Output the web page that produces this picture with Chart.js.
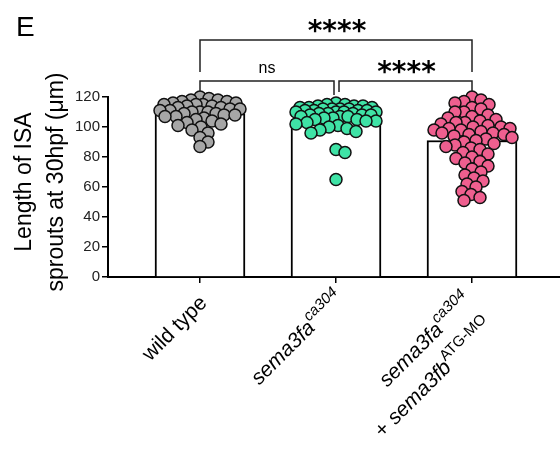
<!DOCTYPE html>
<html><head><meta charset="utf-8">
<script src="https://cdn.jsdelivr.net/npm/chart.js@4"></script>
<style>html,body{margin:0;padding:0;background:#fff;overflow:hidden}</style>
</head><body>
<canvas id="c" width="575" height="455" style="display:block;width:575px;height:455px"></canvas>
<script>
// ---- data ----
const categories = ['wild type', 'sema3fa ca304', 'sema3fa ca304 + sema3fb ATG-MO'];
const barMeans = [109, 105, 91];
const wildType = [120,119,118,118,117,117,116,116,115,115,115,114,114,113,113,112,112,111,111,110,
                  110,110,109,109,108,108,107,107,106,105,104,103,102,101,100,98,96,93,90,87];
const sema3fa = [116,115,115,114,114,114,113,113,113,112,112,112,112,111,111,111,111,110,110,110,
                 110,109,109,109,108,108,108,107,107,107,106,106,105,105,104,104,103,102,101,100,
                 99,98,97,96,85,83,65];
const sema3faMO = [120,118,117,116,115,113,112,110,110,108,107,106,105,104,103,103,102,101,100,100,
                   99,99,98,98,97,96,96,95,95,94,93,92,91,90,89,88,87,86,85,83,
                   82,80,79,77,76,74,72,70,68,66,64,62,60,57,55,53,51];
const yTicks = [0, 20, 40, 60, 80, 100, 120];
const comparisons = [
  {a: 0, b: 2, label: '****', level: 2},
  {a: 0, b: 1, label: 'ns', level: 1},
  {a: 1, b: 2, label: '****', level: 1}
];
const groupColors = ['#a6a6a6', '#3fe3a6', '#ef5f8f'];

// ---- deterministic beeswarm layout (pixel spacing) ----
const PX_PER_X = 136, PX_PER_Y = 1.5, LEFT_GAP = 92;
function swarm(values, gi, D, maxOff) {
  const idx = values.map((v, i) => i).sort((i, j) => values[j] - values[i]);
  const placed = [];
  const out = new Array(values.length);
  for (const i of idx) {
    const py = values[i] * PX_PER_Y;
    let best = 0, bestD = -1;
    for (let k = 0; k <= 2 * maxOff; k++) {
      const off = (k % 2 ? 1 : -1) * Math.ceil(k / 2);
      let md = Infinity;
      for (const p of placed) { const d = Math.hypot(p[0] - off, p[1] - py); if (d < md) md = d; }
      if (md >= D) { best = off; bestD = md; break; }
      if (md > bestD) { bestD = md; best = off; }
    }
    placed.push([best, py]);
    out[i] = {x: gi + best / PX_PER_X, y: values[i]};
  }
  return out;
}
const groups = [wildType, sema3fa, sema3faMO];

const FONT = '"Liberation Sans", Arial, sans-serif';

function drawRich(ctx, parts, ax, ay) {
  const fontOf = p => (p.italic ? 'italic ' : '') + (p.sup ? '15px ' : '21px ') + FONT;
  let total = 0;
  for (const p of parts) { ctx.font = fontOf(p); p.w = ctx.measureText(p.t).width; total += p.w; }
  ctx.save();
  ctx.translate(ax, ay);
  ctx.rotate(-Math.PI / 4);
  ctx.textAlign = 'left';
  ctx.textBaseline = 'alphabetic';
  let x = -total;
  for (const p of parts) {
    ctx.font = fontOf(p);
    ctx.fillText(p.t, x, p.sup ? -10 : 0);
    x += p.w;
  }
  ctx.restore();
}

const overlay = {
  id: 'overlay',
  afterDraw(chart) {
    const ctx = chart.ctx;
    const xs = chart.scales.x;
    const axisY = chart.chartArea.bottom;
    ctx.save();
    ctx.fillStyle = '#000';
    ctx.font = '28px ' + FONT;
    ctx.textAlign = 'left'; ctx.textBaseline = 'alphabetic';
    ctx.fillText('E', 16, 36);

    ctx.save();
    ctx.translate(0, 182);
    ctx.rotate(-Math.PI / 2);
    ctx.font = '23px ' + FONT;
    ctx.textAlign = 'center';
    ctx.fillText('Length of ISA', 0, 31);
    ctx.fillText('sprouts at 30hpf (\u03bcm)', 0, 63);
    ctx.restore();

    ctx.strokeStyle = '#222';
    ctx.lineWidth = 1.5;
    for (const c of comparisons) {
      let x1 = xs.getPixelForValue(c.a), x2 = xs.getPixelForValue(c.b);
      let top, dropL, dropR;
      if (c.level === 2) { top = 40; dropL = 72; dropR = 72; }
      else {
        top = 81; dropL = 92; dropR = 92;
        if (c.b === 1) { x2 -= 2; dropR = 95; }
        if (c.a === 1) { x1 += 3; }
      }
      ctx.beginPath();
      ctx.moveTo(x1, dropL); ctx.lineTo(x1, top); ctx.lineTo(x2, top); ctx.lineTo(x2, dropR);
      ctx.stroke();
      const cx = (x1 + x2) / 2;
      ctx.textAlign = 'center';
      if (c.label === 'ns') {
        ctx.font = '16px ' + FONT;
        ctx.fillText(c.label, cx, top - 8);
      } else {
        ctx.font = 'bold 28px "DejaVu Sans", sans-serif';
        ctx.fillText(c.label, cx + 1, top);
      }
    }

    const t0 = xs.getPixelForValue(0), t1 = xs.getPixelForValue(1), t2 = xs.getPixelForValue(2);
    drawRich(ctx, [{t: 'wild type'}], t0 + 8, axisY + 27);
    drawRich(ctx, [{t: 'sema3fa', italic: true}, {t: 'ca304', sup: true, italic: true}], t1 + 9, axisY + 23);
    drawRich(ctx, [{t: 'sema3fa', italic: true}, {t: 'ca304', sup: true, italic: true}], t2 + 1, axisY + 25);
    drawRich(ctx, [{t: '+ '}, {t: 'sema3fb', italic: true}, {t: 'ATG-MO', sup: true}], t2 + 22, axisY + 50);
    ctx.restore();
  }
};

new Chart(document.getElementById('c'), {
  type: 'bar',
  data: {
    datasets: [
      {
        type: 'bar',
        data: barMeans.map((v, i) => ({x: i, y: v})),
        backgroundColor: '#ffffff',
        borderColor: '#000',
        borderWidth: 2,
        barThickness: 90,
        order: 3
      },
      ...groups.map((g, gi) => ({
        type: 'scatter',
        data: swarm(g, gi, 9, 40),
        backgroundColor: groupColors[gi],
        borderColor: '#111',
        borderWidth: 1.5,
        pointRadius: 6,
        clip: false,
        order: 1
      }))
    ]
  },
  options: {
    responsive: false,
    animation: false,
    devicePixelRatio: 1,
    layout: {padding: {top: 97, right: 0, left: 0, bottom: 0}},
    plugins: {legend: {display: false}, tooltip: {enabled: false}},
    scales: {
      x: {
        type: 'linear',
        offset: false,
        bounds: 'data',
        afterDataLimits: s => { s.min = -LEFT_GAP / PX_PER_X; s.max = s.min + s.width / PX_PER_X; },
        afterBuildTicks: s => { s.ticks = categories.map((c, i) => ({value: i})); },
        afterFit: s => { s.height = 178; },
        ticks: {callback: () => '', autoSkip: false, maxRotation: 0},
        grid: {offset: false, drawOnChartArea: false, drawTicks: true, tickLength: 6, color: '#000', lineWidth: 1.5},
        border: {color: '#000', width: 2}
      },
      y: {
        min: 0, max: 120,
        afterBuildTicks: s => { s.ticks = yTicks.map(v => ({value: v})); },
        afterFit: s => { s.width = 108; },
        ticks: {font: {size: 15, family: FONT}, color: '#222', padding: 2},
        grid: {drawOnChartArea: false, drawTicks: true, tickLength: 6, color: '#000', lineWidth: 1.5},
        border: {color: '#000', width: 2}
      }
    }
  },
  plugins: [overlay]
});
</script>
</body></html>
